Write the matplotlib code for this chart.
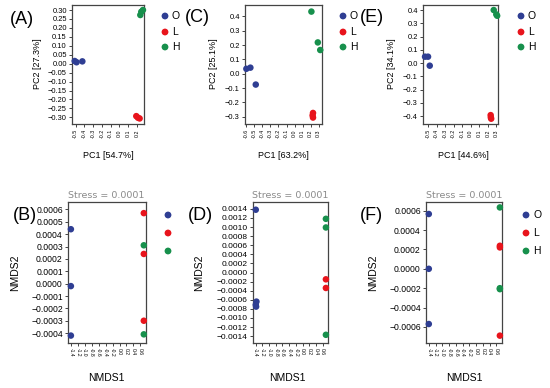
import matplotlib
matplotlib.use('Agg')
import matplotlib.pyplot as plt

W, H = 550, 388
plt.rcParams['font.family'] = ['Liberation Sans', 'DejaVu Sans']

groups = ['O', 'L', 'H']
group_colors = ['#2F3E93', '#E8141C', '#17904C']

# ---------------- PCA (A) ----------------
A_x = {'O': [-0.511, -0.49, -0.424], 'L': [0.192, 0.211, 0.23], 'H': [0.238, 0.249, 0.268]}
A_y = {'O': [0.015, 0.008, 0.013], 'L': [-0.293, -0.302, -0.306], 'H': [0.272, 0.29, 0.30]}
A_xticks = [-0.5, -0.4, -0.3, -0.2, -0.1, 0.0, 0.1, 0.2]
A_yticks = [-0.30, -0.25, -0.20, -0.15, -0.10, -0.05, 0.00, 0.05, 0.10, 0.15, 0.20, 0.25, 0.30]
A_xlabel, A_ylabel = 'PC1 [54.7%]', 'PC2 [27.3%]'

# ---------------- PCA (C) ----------------
C_x = {'O': [-0.60, -0.55, -0.483], 'L': [0.23, 0.225, 0.23], 'H': [0.21, 0.29, 0.32]}
C_y = {'O': [0.035, 0.043, -0.075], 'L': [-0.273, -0.29, -0.305], 'H': [0.434, 0.219, 0.166]}
C_xticks = [-0.6, -0.5, -0.4, -0.3, -0.2, -0.1, 0.0, 0.1, 0.2, 0.3]
C_yticks = [-0.3, -0.2, -0.1, 0.0, 0.1, 0.2, 0.3, 0.4]
C_xlabel, C_ylabel = 'PC1 [63.2%]', 'PC2 [25.1%]'

# ---------------- PCA (E) ----------------
E_x = {'O': [-0.535, -0.50, -0.48], 'L': [0.234, 0.236, 0.24], 'H': [0.27, 0.30, 0.31]}
E_y = {'O': [0.048, 0.048, -0.02], 'L': [-0.393, -0.41, -0.42], 'H': [0.40, 0.367, 0.357]}
E_xticks = [-0.5, -0.4, -0.3, -0.2, -0.1, 0.0, 0.1, 0.2, 0.3]
E_yticks = [-0.4, -0.3, -0.2, -0.1, 0.0, 0.1, 0.2, 0.3, 0.4]
E_xlabel, E_ylabel = 'PC1 [44.6%]', 'PC2 [34.1%]'

# ---------------- NMDS ----------------
nmds_xticks = [-1.4, -1.2, -1.0, -0.8, -0.6, -0.4, -0.2, 0.0, 0.2, 0.4, 0.6]
stress_text = 'Stress = 0.0001'

B_x = {'O': [-1.40, -1.40, -1.40], 'L': [0.70, 0.70, 0.70], 'H': [0.70, 0.70]}
B_y = {'O': [0.00044, -0.00002, -0.00042], 'L': [0.00057, 0.00024, -0.00030], 'H': [0.00031, -0.00041]}
B_yticks = [-0.0004, -0.0003, -0.0002, -0.0001, 0.0, 0.0001, 0.0002, 0.0003, 0.0004, 0.0005, 0.0006]

D_x = {'O': [-1.40, -1.38, -1.40, -1.39], 'L': [0.70, 0.70], 'H': [0.70, 0.70, 0.70]}
D_y = {'O': [0.00138, -0.00064, -0.00071, -0.00075], 'L': [-0.00015, -0.00034], 'H': [0.00118, 0.00099, -0.00137]}
D_yticks = [-0.0014, -0.0012, -0.0010, -0.0008, -0.0006, -0.0004, -0.0002, 0.0,
            0.0002, 0.0004, 0.0006, 0.0008, 0.0010, 0.0012, 0.0014]

F_x = {'O': [-1.40, -1.40, -1.40], 'L': [0.70, 0.70, 0.70], 'H': [0.70, 0.70, 0.70]}
F_y = {'O': [0.000566, 0.0, -0.00057], 'L': [0.000238, 0.000221, -0.00069], 'H': [0.000634, -0.0002, -0.00021]}
F_yticks = [-0.0006, -0.0004, -0.0002, 0.0, 0.0002, 0.0004, 0.0006]

fig = plt.figure(figsize=(W / 100, H / 100), dpi=100)


def rect(l, r, t, b):
    return [l / W, 1 - b / H, (r - l) / W, (b - t) / H]


def ftext(x, y, s, **kw):
    fig.text(x / W, 1 - y / H, s, ha=kw.pop('ha', 'center'), va=kw.pop('va', 'center'), **kw)


def panel(r, xs, ys, xlim, ylim, xticks, xfmt, yticks, yfmt, xfs, yfs, xrot):
    ax = fig.add_axes(rect(*r))
    for g, c in zip(groups, group_colors):
        ax.scatter(xs[g], ys[g], s=22, color=c, edgecolors='none', zorder=3, clip_on=False)
    ax.set_xlim(*xlim)
    ax.set_ylim(*ylim)
    ax.set_xticks(xticks)
    ax.set_xticklabels([xfmt % v for v in xticks], rotation=xrot, fontsize=xfs)
    ax.set_yticks(yticks)
    ax.set_yticklabels([(yfmt % v).replace('-', '\u2212') for v in yticks], fontsize=yfs)
    for s in ax.spines.values():
        s.set_color('#444444')
        s.set_linewidth(0.9)
    ax.tick_params(length=2.5, width=0.7, color='#444444', pad=1.2)
    return ax


# top row PCA
panel((72, 144, 5, 124), A_x, A_y, (-0.542, 0.28), (-0.337, 0.328), A_xticks, '%.1f', A_yticks, '%.2f', 3.8, 5.4, 90)
panel((245, 322, 5, 124), C_x, C_y, (-0.617, 0.342), (-0.35, 0.48), C_xticks, '%.1f', C_yticks, '%.1f', 3.8, 5.4, 90)
panel((423, 498, 5, 124), E_x, E_y, (-0.559, 0.32), (-0.46, 0.438), E_xticks, '%.1f', E_yticks, '%.1f', 3.8, 5.4, 90)

# bottom row NMDS
panel((68, 146, 202, 343), B_x, B_y, (-1.483, 0.763), (-0.00048, 0.00066), nmds_xticks, '%.1f', B_yticks, '%.4f', 3.6, 6.2, 270)
panel((253, 328, 202, 343), D_x, D_y, (-1.483, 0.763), (-0.00155, 0.00155), nmds_xticks, '%.1f', D_yticks, '%.4f', 3.6, 6.0, 270)
panel((426, 502, 202, 343), F_x, F_y, (-1.483, 0.763), (-0.000766, 0.00069), nmds_xticks, '%.1f', F_yticks, '%.4f', 3.6, 6.2, 270)

# axis labels
for x, s in [(37, A_ylabel), (213, C_ylabel), (392, E_ylabel)]:
    ftext(x, 64, s, rotation=90, fontsize=6.5)
for x, s in [(108, A_xlabel), (283, C_xlabel), (463, E_xlabel)]:
    ftext(x, 155, s, fontsize=6.5)
for x in [15, 199, 373]:
    ftext(x, 273, 'NMDS2', rotation=90, fontsize=7.5)
for x in [106, 287, 464]:
    ftext(x, 378, 'NMDS1', fontsize=7.5)
for x in [106, 290, 464]:
    ftext(x, 195, stress_text, fontsize=6.8, color='#8a8a8a', family='DejaVu Sans')

# panel letters
for x, y, s in [(22, 20, '(A)'), (197, 18, '(C)'), (372, 18, '(E)'),
                (25, 215, '(B)'), (200, 215, '(D)'), (371, 215, '(F)')]:
    ftext(x, y, s, fontsize=13)

# legends
ov = fig.add_axes([0, 0, 1, 1])
ov.set_xlim(0, W)
ov.set_ylim(H, 0)
ov.axis('off')
leg_rows_top = [16, 32, 47]
leg_rows_bot = [215, 233, 251]
for lx, rows, show_text in [(165, leg_rows_top, True), (343, leg_rows_top, True), (521, leg_rows_top, True),
                            (168, leg_rows_bot, False), (526, leg_rows_bot, True)]:
    for g, c, yy in zip(groups, group_colors, rows):
        ov.scatter([lx], [yy], s=24, color=c, edgecolors='none')
        if show_text:
            ftext(lx + 7, yy, g, ha='left', fontsize=7.5)

fig.savefig('out.png', dpi=100)
